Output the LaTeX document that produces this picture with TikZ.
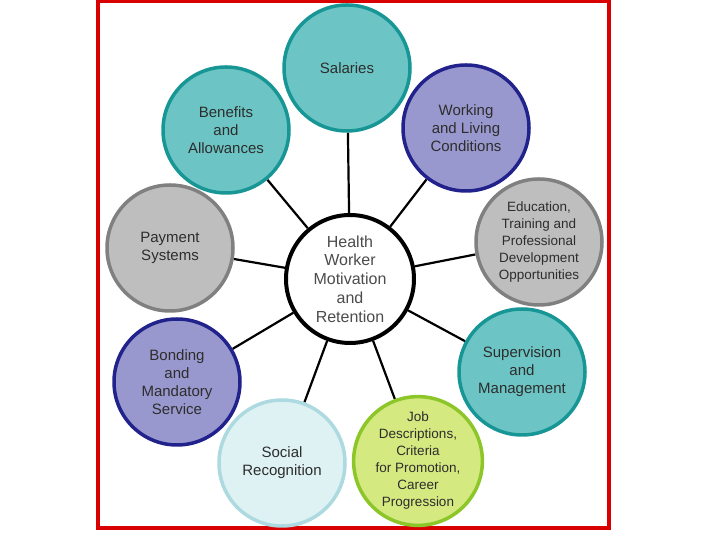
\documentclass[tikz,border=0pt]{standalone}
\usepackage{fontspec}
\setmainfont{Liberation Sans}
\usepackage{tikz}
\usetikzlibrary{backgrounds}
\usepackage{xcolor}
\definecolor{tealfill}{RGB}{108,197,196}
\definecolor{tealline}{RGB}{24,150,150}
\definecolor{purplefill}{RGB}{152,152,206}
\definecolor{purpleline}{RGB}{34,34,140}
\definecolor{greyfill}{RGB}{190,190,190}
\definecolor{greyline}{RGB}{128,128,128}
\definecolor{icefill}{RGB}{222,241,243}
\definecolor{iceline}{RGB}{172,218,224}
\definecolor{limefill}{RGB}{212,233,128}
\definecolor{limeline}{RGB}{140,198,40}
\definecolor{labeltext}{RGB}{45,45,45}
\tikzstyle{factor} = [circle, minimum size=126pt, inner sep=0pt, line width=3.5pt, align=center, text=labeltext, font=\fontsize{15}{18}\selectfont]
\tikzstyle{dense}  = [font=\fontsize{13.5}{17}\selectfont]
\tikzstyle{hubnode} = [circle, minimum size=128pt, inner sep=0pt, line width=4pt, draw=black, fill=white, align=center, text=black!70, font=\fontsize{16}{18.75}\selectfont]
\tikzstyle{spoke} = [line width=2.2pt, black]

\begin{document}
\begin{tikzpicture}[x=1pt, y=1pt]
  \useasboundingbox (0,0) rectangle (720,540);

  % Red frame
  \draw[line width=4pt, draw=red!85!black] (98,12) rectangle (609,539);

  % Hub
  \node[hubnode] (hub) at (350,261) {Health\\Worker\\Motivation\\and\\Retention};

  % Factors
  \node[factor, fill=tealfill, draw=tealline] (sal) at (347,472) {Salaries};
  \node[factor, fill=tealfill, draw=tealline] (ben) at (226,410) {Benefits\\and\\Allowances};
  \node[factor, fill=purplefill, draw=purpleline] (work) at (466,412) {Working\\and Living\\Conditions};
  \node[factor, fill=greyfill, draw=greyline] (pay) at (170,292) {Payment\\Systems};
  \node[factor, dense, fill=greyfill, draw=greyline] (edu) at (539,298) {Education,\\Training and\\Professional\\Development\\Opportunities};
  \node[factor, fill=purplefill, draw=purpleline] (bond) at (177,158) {Bonding\\and\\Mandatory\\Service};
  \node[factor, fill=tealfill, draw=tealline] (sup) at (522,168) {Supervision\\and\\Management};
  \node[factor, fill=icefill, draw=iceline] (soc) at (282,77) {Social\\Recognition};
  \node[factor, dense, fill=limefill, draw=limeline] (job) at (418,79) {Job\\Descriptions,\\Criteria\\for Promotion,\\Career\\Progression};

  % Spokes
  \begin{scope}[on background layer]
    \foreach \f in {sal, ben, work, pay, edu, bond, sup, soc, job}
      \draw[spoke] (hub) -- (\f);
  \end{scope}
\end{tikzpicture}
\end{document}
